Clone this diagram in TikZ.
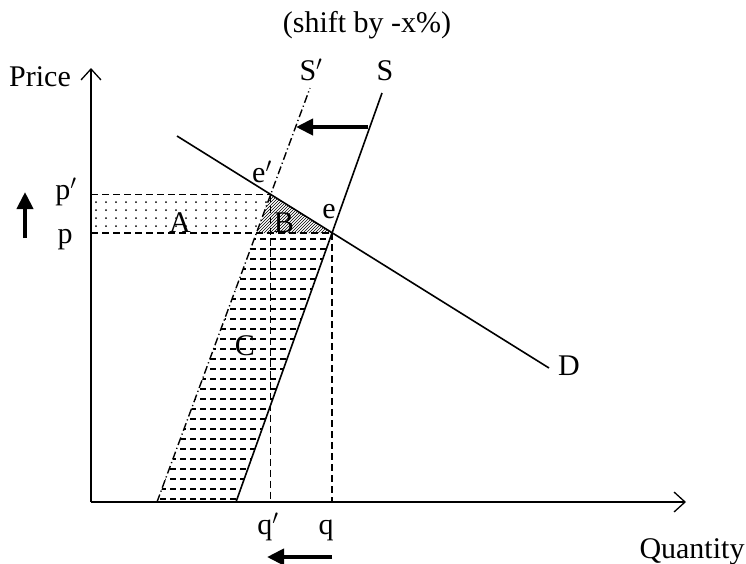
\documentclass[tikz,border=0pt]{standalone}
\usepackage{fontspec}
\setmainfont{Liberation Serif}
\usetikzlibrary{arrows.meta,patterns}

\begin{document}
\begin{tikzpicture}[x=1pt,y=-1pt,
  every node/.style={font=\fontsize{30}{36}\selectfont,inner sep=0pt,anchor=base},
  axis/.style={line width=1.3pt,-{Straight Barb[length=11pt,width=20pt,line width=1.3pt]}},
  curve/.style={line width=1.6pt},
  guide/.style={line width=1.2pt,dash pattern=on 7pt off 4pt},
  shifted/.style={line width=1.4pt,dash pattern=on 8pt off 3pt on 1.2pt off 3pt},
  move/.style={line width=4pt,-{Triangle[length=17pt,width=16pt]}}]
\useasboundingbox (0,0) rectangle (746,563);
% points
\coordinate (o) at (91,502);
\coordinate (ytip) at (91,68);
\coordinate (xtip) at (686,502);
\coordinate (sbot) at (236,502);
\coordinate (stop) at (382,93);
\coordinate (s2bot) at (157,502);
\coordinate (s2top) at (310,88);
\coordinate (dtop) at (177,136);
\coordinate (dbot) at (549,368);
\coordinate (e) at (332,233);
\coordinate (e2) at (270.6,194.6);
\coordinate (c1) at (256.4,233);
\coordinate (pl) at (91,233);
\coordinate (p2l) at (91,194.6);
\coordinate (q) at (332,502);
\coordinate (q2) at (270.6,502);
% area A
\begin{scope}
\clip (p2l) -- (e2) -- (c1) -- (pl) -- cycle;
\foreach \y in {202,210,...,230}
  \foreach \x in {96,106,...,276}
    \fill (\x,\y) circle (1pt);
\end{scope}
% area B
\fill[pattern=north east lines] (e2) -- (e) -- (c1) -- cycle;
% area C
\begin{scope}
\clip (c1) -- (e) -- (sbot) -- (s2bot) -- cycle;
\foreach \y in {239,249,...,499}
  \draw[line width=1.2pt,dash pattern=on 6pt off 4pt] (150,\y) -- (340,\y);
\end{scope}
% guides
\draw[guide] (p2l) -- (e2);
\draw[guide] (pl) -- (e);
\draw[guide] (e) -- (q);
\draw[guide] (e2) -- (q2);
% axes
\draw[axis] (o) -- (ytip);
\draw[axis] (o) -- (xtip);
% curves
\draw[curve] (sbot) -- (stop);
\draw[shifted] (s2bot) -- (s2top);
\draw[curve] (dtop) -- (dbot);
% shift arrows
\draw[move] (368,127) -- (296,127);
\draw[move] (25,238) -- (25,192);
\draw[move] (332,557) -- (267,557);
% labels
\node (price) at (40,86) {Price};
\node (quantity) at (692,558) {Quantity};
\node (shift) at (367,32) {(shift by -x\%)};
\node (slab2) at (311,80) {S$'$};
\node (slab) at (385,80) {S};
\node (dlab) at (569,375) {D};
\node (elab2) at (262,182) {e$'$};
\node (elab) at (329,218) {e};
\node (alab) at (180,232) {A};
\node (blab) at (284,232) {B};
\node (clab) at (245,355) {C};
\node (plab2) at (66,199) {p$'$};
\node (plab) at (65,243) {p};
\node (qlab2) at (268,534) {q$'$};
\node (qlab) at (326,534) {q};
\end{tikzpicture}
\end{document}
